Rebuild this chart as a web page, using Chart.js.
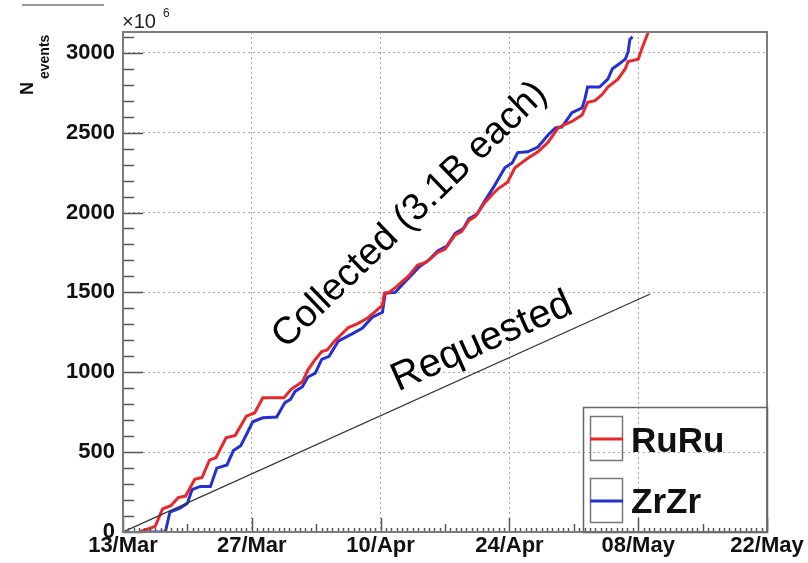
<!DOCTYPE html>
<html><head><meta charset="utf-8">
<script src="https://cdn.jsdelivr.net/npm/chart.js@4.4.1/dist/chart.umd.min.js"></script>
<style>html,body{margin:0;padding:0;background:#fff;} canvas{display:block;}</style>
</head><body>
<canvas id="c" width="808" height="563"></canvas>
<script>
// ---- data (x = days since 13/Mar, y = events ×10^6) ----
const xTickValues = [0, 14, 28, 42, 56, 70];
const xTickLabels = ['13/Mar','27/Mar','10/Apr','24/Apr','08/May','22/May'];
const yTickValues = [0, 500, 1000, 1500, 2000, 2500, 3000];
const yTickLabels = ['0','500','1000','1500','2000','2500','3000'];
const seriesNames = ['RuRu','ZrZr'];
const annotationTexts = ['Collected (3.1B each)','Requested'];

const ruruDays = [1.8,3.5,4.3,5.2,6.0,6.8,7.8,8.6,9.4,10.1,11.2,12.2,13.4,14.3,15.2,17.5,18.3,19.5,20.1,20.9,21.6,22.2,23.0,24.5,25.5,26.6,27.4,28.2,28.4,28.9,29.6,30.3,31.0,32.0,33.0,34.2,35.0,36.1,36.8,37.6,38.3,39.3,40.1,40.8,41.8,42.6,44.0,45.1,46.2,47.3,48.0,48.8,49.9,50.5,51.3,52.1,52.7,53.8,54.6,54.9,56.0,56.4,57.1];
const ruruEvents = [0,35,145,165,215,225,330,342,450,465,590,605,725,745,840,840,895,940,1015,1080,1130,1140,1195,1280,1305,1340,1380,1420,1495,1500,1530,1565,1600,1670,1690,1750,1770,1860,1880,1950,1975,2060,2110,2150,2190,2280,2340,2380,2440,2530,2550,2570,2610,2690,2700,2740,2785,2835,2900,2945,2960,3025,3130];

const zrzrDays = [1.8,4.6,5.1,6.2,7.0,7.5,8.4,9.5,10.2,11.3,12.0,12.8,13.5,14.1,15.2,16.7,17.6,18.2,18.7,19.5,20.1,20.9,21.6,22.4,23.4,24.9,26.0,27.1,28.2,28.5,29.6,30.3,31.4,32.2,33.2,34.2,35.2,36.1,37.0,37.6,38.5,39.3,40.4,41.5,42.3,42.9,44.0,45.1,46.2,47.0,47.7,48.8,49.9,50.2,50.5,51.8,52.7,53.2,53.8,54.6,54.9,55.1,55.4];
const zrzrEvents = [0,0,125,150,180,265,285,285,400,420,510,540,620,690,715,720,810,830,880,910,970,995,1080,1100,1195,1240,1275,1345,1375,1495,1500,1545,1610,1660,1700,1760,1790,1870,1900,1960,1990,2070,2170,2280,2310,2375,2380,2410,2485,2530,2535,2625,2655,2710,2785,2785,2835,2900,2925,2960,3005,3085,3100];

const requestedDays = [0, 57.3];
const requestedEvents = [0, 1490];

// ---- helpers ----
const zip = (xs, ys) => xs.map((x, i) => ({x: x, y: ys[i]}));
const FONT = '"Liberation Sans", Arial, Helvetica, sans-serif';
const RED = '#e8282c';
const BLUE = '#2430d0';
const X_MAX = 70, Y_MAX = 3130;

const decor = {
  id: 'decor',
  afterDatasetsDraw(chart) {
    const ctx = chart.ctx, a = chart.chartArea;
    const xs = chart.scales.x, ys = chart.scales.y;
    ctx.save();
    ctx.strokeStyle = '#555';
    ctx.lineWidth = 1.5;
    for (let v = 0; v <= Y_MAX; v += 100) {
      const py = Math.round(ys.getPixelForValue(v)) + 0.5;
      const len = (v % 500 === 0) ? 20 : 11;
      ctx.beginPath(); ctx.moveTo(a.left, py); ctx.lineTo(a.left + len, py); ctx.stroke();
    }
    for (let i = 0; i <= 120; i++) {
      const v = i * 7 / 12;
      const px = Math.round(xs.getPixelForValue(v)) + 0.5;
      const len = (i % 24 === 0) ? 14 : (i % 12 === 0 ? 8 : 4);
      ctx.beginPath(); ctx.moveTo(px, a.bottom); ctx.lineTo(px, a.bottom - len); ctx.stroke();
    }
    ctx.strokeStyle = '#7c7c7c';
    ctx.lineWidth = 2;
    ctx.strokeRect(a.left, a.top, a.right - a.left, a.bottom - a.top);
    ctx.restore();
  },
  afterDraw(chart) {
    const ctx = chart.ctx, a = chart.chartArea;
    ctx.save();
    ctx.strokeStyle = '#9a9a9a'; ctx.lineWidth = 2;
    ctx.beginPath(); ctx.moveTo(22, 5); ctx.lineTo(104, 5); ctx.stroke();

    ctx.fillStyle = '#222';
    ctx.textAlign = 'left'; ctx.textBaseline = 'alphabetic';
    ctx.font = '20px ' + FONT;
    ctx.fillText('\u00d710', a.left - 1, 28);
    ctx.font = '12px ' + FONT;
    ctx.fillText('6', a.left + 40, 17);

    ctx.save();
    ctx.translate(33, 95); ctx.rotate(-Math.PI / 2);
    ctx.font = 'bold 18px ' + FONT; ctx.fillStyle = '#111';
    ctx.fillText('N', 0, 0);
    ctx.font = 'bold 14px ' + FONT;
    ctx.fillText('events', 16, 16);
    ctx.restore();

    ctx.fillStyle = '#000';
    ctx.textAlign = 'center'; ctx.textBaseline = 'middle';
    ctx.save();
    ctx.translate(410, 215); ctx.rotate(-44 * Math.PI / 180);
    ctx.font = '38px ' + FONT;
    ctx.fillText(annotationTexts[0], 0, 0);
    ctx.restore();
    ctx.save();
    ctx.translate(482, 342); ctx.rotate(-24 * Math.PI / 180);
    ctx.font = '40px ' + FONT;
    ctx.fillText(annotationTexts[1], 0, 0);
    ctx.restore();

    const lx = 583, ly = 407, lr = a.right, lb = a.bottom;
    ctx.strokeStyle = '#666'; ctx.lineWidth = 1.5;
    ctx.strokeRect(lx + 0.5, ly + 0.5, lr - lx, lb - ly);
    const entries = [{name: seriesNames[0], color: RED, top: 416, base: 452},
                     {name: seriesNames[1], color: BLUE, top: 478, base: 513}];
    ctx.textAlign = 'left'; ctx.textBaseline = 'alphabetic';
    for (const e of entries) {
      ctx.strokeStyle = '#777'; ctx.lineWidth = 1.5;
      ctx.strokeRect(590.5, e.top + 0.5, 32, 44);
      ctx.strokeStyle = e.color; ctx.lineWidth = 3;
      ctx.beginPath(); ctx.moveTo(590, e.top + 23); ctx.lineTo(623, e.top + 23); ctx.stroke();
      ctx.fillStyle = '#111';
      ctx.font = 'bold 35px ' + FONT;
      ctx.fillText(e.name, 631, e.base);
    }
    ctx.restore();
  }
};

const gridColor = (ctx, maxV) => {
  const v = ctx.tick ? ctx.tick.value : null;
  return (v === 0 || v === maxV) ? 'rgba(0,0,0,0)' : '#a8a8a8';
};

new Chart(document.getElementById('c'), {
  type: 'line',
  data: {
    datasets: [
      {label: 'Requested', data: zip(requestedDays, requestedEvents), borderColor: '#333', borderWidth: 1.3, pointRadius: 0, tension: 0, fill: false},
      {label: seriesNames[0], data: zip(ruruDays, ruruEvents), borderColor: RED, borderWidth: 3, pointRadius: 0, tension: 0, fill: false},
      {label: seriesNames[1], data: zip(zrzrDays, zrzrEvents), borderColor: BLUE, borderWidth: 3, pointRadius: 0, tension: 0, fill: false}
    ]
  },
  options: {
    responsive: false,
    animation: false,
    events: [],
    layout: {padding: {left: 0, top: 32, right: 41, bottom: 0}},
    plugins: {legend: {display: false}, tooltip: {enabled: false}, title: {display: false}},
    scales: {
      x: {
        type: 'linear', min: 0, max: X_MAX,
        afterFit: s => { s.height = 31; },
        afterBuildTicks: s => { s.ticks = xTickValues.map(v => ({value: v})); },
        ticks: {autoSkip: false, maxRotation: 0, padding: 1, color: '#111',
          font: {family: FONT, size: 22, weight: 'bold'},
          callback: v => xTickLabels[xTickValues.indexOf(v)]},
        grid: {drawTicks: false, color: c => gridColor(c, X_MAX), lineWidth: 1},
        border: {display: false, dash: [2, 3]}
      },
      y: {
        type: 'linear', min: 0, max: Y_MAX,
        afterFit: s => { s.width = 123; },
        afterBuildTicks: s => { s.ticks = yTickValues.map(v => ({value: v})); },
        ticks: {autoSkip: false, padding: 8, color: '#111',
          font: {family: FONT, size: 22, weight: 'bold'},
          callback: v => yTickLabels[yTickValues.indexOf(v)]},
        grid: {drawTicks: false, color: c => gridColor(c, Y_MAX), lineWidth: 1},
        border: {display: false, dash: [2, 3]}
      }
    }
  },
  plugins: [decor]
});
</script>
</body></html>
